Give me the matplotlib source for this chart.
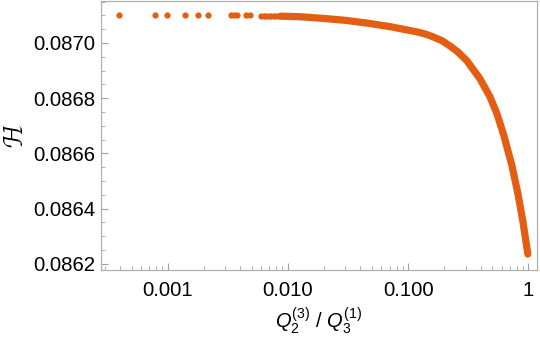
import matplotlib
matplotlib.use("Agg")
import matplotlib.pyplot as plt
from matplotlib.ticker import MultipleLocator, FixedLocator, FixedFormatter, LogLocator, NullFormatter

plt.rcParams['font.family'] = ['Liberation Sans', 'DejaVu Sans']
plt.rcParams['mathtext.fontset'] = 'custom'
plt.rcParams['mathtext.rm'] = 'Liberation Sans'
plt.rcParams['mathtext.it'] = 'Liberation Sans:italic'

# sparse points at small ratio
x_sparse = [0.00039, 0.00079, 0.00098, 0.00138, 0.00177, 0.00216, 0.00333,
            0.00358, 0.00379, 0.00450, 0.00483, 0.00600, 0.00626, 0.00655,
            0.00690, 0.00720, 0.00760, 0.00800, 0.00850]
y_sparse = [0.087101, 0.087101, 0.087101, 0.087101, 0.087101, 0.087101, 0.087101,
            0.087101, 0.087101, 0.087100, 0.087100, 0.087099, 0.087099, 0.087099,
            0.087099, 0.087099, 0.087099, 0.087098, 0.087098]

# dense part of the curve
x_dense = [0.00867, 0.0127, 0.0197, 0.0300, 0.0457, 0.0709, 0.0981, 0.1188,
           0.1400, 0.1612, 0.1915, 0.2231, 0.2600, 0.3088, 0.3959, 0.4792,
           0.5478, 0.6261, 0.7296, 0.8181, 0.9003, 0.9905]
y_dense = [0.087097, 0.087095, 0.087089, 0.087082, 0.087072, 0.087059,
           0.087047, 0.087040, 0.087032, 0.087022, 0.087008, 0.086989,
           0.086967, 0.086935, 0.086870, 0.086805, 0.086744, 0.086664,
           0.086556, 0.086455, 0.086354, 0.086235]

color = '#e35d12'

fig = plt.figure(figsize=(5.4, 3.38), dpi=100)
ax = fig.add_axes([0.187, 0.201, 0.807, 0.796])

ax.plot(x_dense, y_dense, '-', color=color, lw=5.2,
        solid_capstyle='round', solid_joinstyle='round')
ax.plot(x_sparse, y_sparse, 'o', color=color, ms=4.5, mec='none')

ax.set_xscale('log')
ax.set_xlim(0.000278, 1.175)
ax.set_ylim(0.086177, 0.087152)

ax.xaxis.set_major_locator(FixedLocator([0.001, 0.01, 0.1, 1]))
ax.xaxis.set_major_formatter(FixedFormatter(['0.001', '0.010', '0.100', '1']))
ax.xaxis.set_minor_locator(LogLocator(base=10, subs=range(2, 10), numticks=20))
ax.xaxis.set_minor_formatter(NullFormatter())

ax.yaxis.set_major_locator(MultipleLocator(0.0002))
ax.yaxis.set_minor_locator(MultipleLocator(0.00005))
ax.yaxis.set_major_formatter(plt.FuncFormatter(lambda v, p: f'{v:.4f}'))

for s in ax.spines.values():
    s.set_color('#b0b0b0')
    s.set_linewidth(0.9)

ax.tick_params(which='both', direction='in', color='#a0a0a0', top=False, right=False,
               labelsize=14.7, labelcolor='black')
ax.tick_params(which='major', length=5, width=0.8)
ax.tick_params(which='minor', length=3, width=0.6)
ax.tick_params(axis='x', which='major', pad=8)
ax.tick_params(axis='y', which='major', pad=4)

ax.set_ylabel(r'$\mathcal{H}$', fontsize=19, labelpad=4)
ax.set_xlabel(r'$Q_2^{(3)}$ / $Q_3^{(1)}$', fontsize=14.5, labelpad=4)

fig.savefig('out.png', dpi=100)
